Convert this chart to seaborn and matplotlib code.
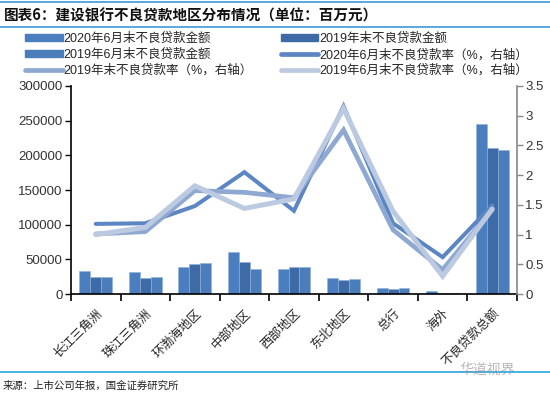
import numpy as np
import pandas as pd
import matplotlib
matplotlib.use("Agg")
import matplotlib.pyplot as plt
from matplotlib.patches import Patch
from matplotlib.lines import Line2D
import seaborn as sns

categories = ["长江三角洲", "珠江三角洲", "环渤海地区", "中部地区", "西部地区",
              "东北地区", "总行", "海外", "不良贷款总额"]

npl_2020h1 = [33600, 31700, 39400, 61000, 36000, 23000, 8600, 4800, 244800]
npl_2019 = [24500, 23500, 43200, 45600, 38900, 19700, 7200, 1400, 211200]
npl_2019h1 = [24500, 25000, 44200, 36000, 38400, 22000, 8600, 1000, 207400]

rate_2020h1 = [1.18, 1.19, 1.48, 2.05, 1.40, 3.16, 1.19, 0.62, 1.49]
rate_2019 = [1.01, 1.05, 1.74, 1.71, 1.62, 2.76, 1.08, 0.41, 1.42]
rate_2019h1 = [1.00, 1.12, 1.82, 1.44, 1.60, 3.12, 1.39, 0.30, 1.43]

bar_labels = ["2020年6月末不良贷款金额", "2019年末不良贷款金额", "2019年6月末不良贷款金额"]
line_labels = ["2020年6月末不良贷款率（%，右轴）", "2019年末不良贷款率（%，右轴）",
               "2019年6月末不良贷款率（%，右轴）"]

bar_colors = ["#4a7ebf", "#3e6ba6", "#4a7dba"]
line_colors = ["#5b86c3", "#8ea8d2", "#bccae1"]

sns.set_theme(style="white")
plt.rcParams["font.family"] = ["Liberation Sans", "Noto Sans CJK SC"]
plt.rcParams["axes.unicode_minus"] = False

bars = pd.DataFrame({
    "地区": categories * 3,
    "系列": sum([[lab] * len(categories) for lab in bar_labels], []),
    "金额": npl_2020h1 + npl_2019 + npl_2019h1,
})

fig = plt.figure(figsize=(5.5, 3.97), dpi=100)
ax = fig.add_axes([0.129, 0.2594, 0.811, 0.524])

sns.barplot(data=bars, x="地区", y="金额", hue="系列", hue_order=bar_labels,
            palette=bar_colors, width=0.66, saturation=1, legend=False,
            edgecolor="#8fb0dc", linewidth=0.4, ax=ax)

ax2 = ax.twinx()
pos = np.arange(len(categories))
rates = [rate_2020h1, rate_2019, rate_2019h1]
widths = [2.9, 3.4, 3.6]
for vals, col, lw in zip(rates, line_colors, widths):
    sns.lineplot(x=pos, y=vals, color=col, linewidth=lw, ax=ax2,
                 solid_joinstyle="miter", legend=False)

ax.set_xlim(-0.5, len(categories) - 0.5)
ax.set_ylim(0, 300000)
ax.set_yticks(np.arange(0, 300001, 50000))
ax2.set_ylim(0, 3.5)
ax2.set_yticks(np.arange(0, 3.51, 0.5))
ax2.set_yticklabels(["0", "0.5", "1", "1.5", "2", "2.5", "3", "3.5"])

ax.set_xlabel("")
ax.set_ylabel("")
ax2.set_ylabel("")

ax.set_xticks(pos)
ax.set_xticklabels(categories, rotation=45, ha="right", rotation_mode="anchor",
                   fontsize=9, family=["Noto Sans CJK SC"])
ax.tick_params(axis="x", length=0, pad=9)
# category boundary ticks
ax.set_xticks(np.arange(-0.5, len(categories), 1), minor=True)
ax.tick_params(axis="x", which="minor", length=5, width=1.2, color="black",
               direction="out", bottom=True)
ax.tick_params(axis="y", length=4, width=1, color="black", direction="out",
               labelsize=9.5, left=True, pad=2, colors="#333333")
ax2.tick_params(axis="y", length=4, width=1, color="#888888", direction="out",
                labelsize=9.5, right=True, pad=2, labelcolor="#333333")

for a in (ax, ax2):
    a.spines["top"].set_visible(False)
ax.spines["left"].set_color("black")
ax.spines["left"].set_linewidth(1.2)
ax.spines["bottom"].set_color("black")
ax.spines["bottom"].set_linewidth(1.2)
ax.spines["right"].set_visible(False)
ax2.spines["left"].set_visible(False)
ax2.spines["bottom"].set_visible(False)
ax2.spines["right"].set_color("#888888")
ax2.spines["right"].set_linewidth(1.2)
ax.grid(False)
ax2.grid(False)

handles = [
    Patch(facecolor=bar_colors[0], edgecolor=bar_colors[0], label=bar_labels[0]),
    Patch(facecolor=bar_colors[2], edgecolor=bar_colors[2], label=bar_labels[2]),
    Line2D([], [], color=line_colors[1], linewidth=3.4, label=line_labels[1]),
    Patch(facecolor=bar_colors[1], edgecolor=bar_colors[1], label=bar_labels[1]),
    Line2D([], [], color=line_colors[0], linewidth=3.4, label=line_labels[0]),
    Line2D([], [], color=line_colors[2], linewidth=3.4, label=line_labels[2]),
]
fig.legend(handles=handles, ncol=2, loc="upper left", bbox_to_anchor=(0.025, 0.945),
           frameon=False, handlelength=3.0, handleheight=0.5,
           handletextpad=0.1, columnspacing=2.2, labelspacing=0.28,
           prop={"family": ["Liberation Sans", "Noto Sans CJK SC"], "size": 9})

fig.text(0.008, 0.962, "图表6：建设银行不良贷款地区分布情况（单位：百万元）",
         fontsize=10.5, fontweight="bold", va="center", ha="left",
         family=["Noto Sans CJK SC"], color="#111111")
fig.add_artist(Line2D([0, 1], [0.995, 0.995], color="#3d9bd6", linewidth=1.2,
                      transform=fig.transFigure))
fig.add_artist(Line2D([0, 1], [0.932, 0.932], color="#3d9bd6", linewidth=1.2,
                      transform=fig.transFigure))
fig.add_artist(Line2D([0, 1], [0.063, 0.063], color="#2aa6e0", linewidth=1.2,
                      transform=fig.transFigure))
fig.text(0.005, 0.028, "来源：上市公司年报，国金证券研究所", fontsize=7.5,
         va="center", ha="left", family=["Noto Sans CJK SC"], color="#222222")
fig.text(0.835, 0.068, "华道视界", fontsize=10, va="center", ha="left",
         family=["Noto Sans CJK SC"], color="#888888", alpha=0.6)

fig.savefig("out.png", dpi=100)
